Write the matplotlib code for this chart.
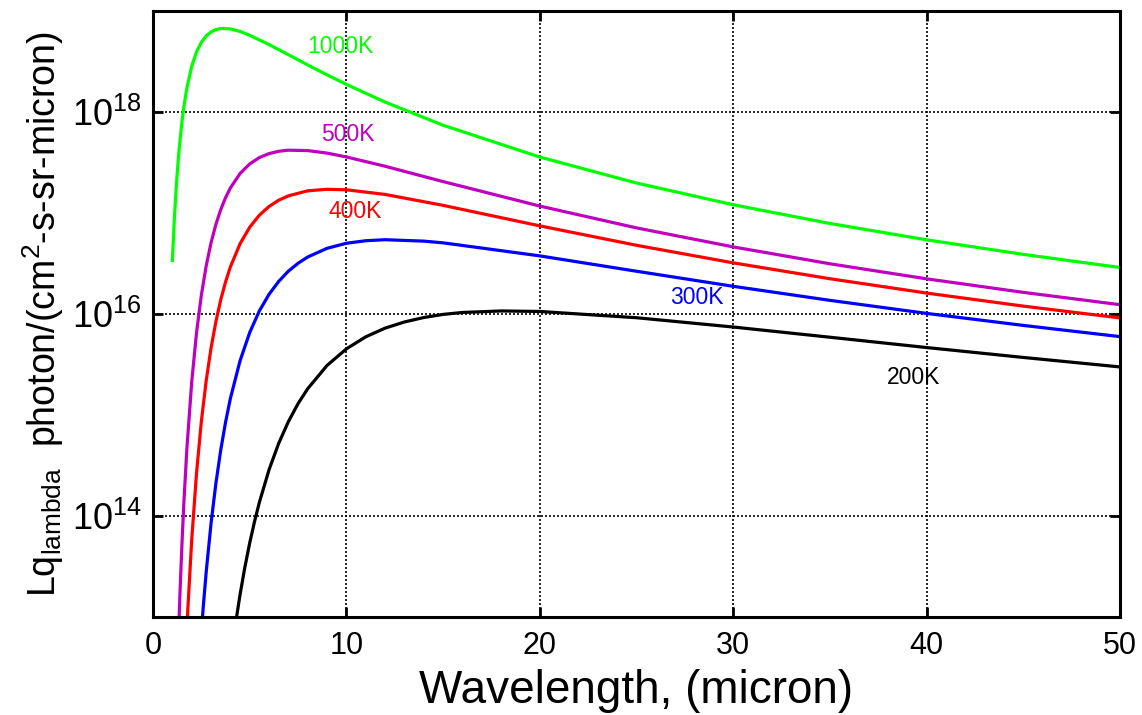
import numpy as np
import matplotlib
matplotlib.use("Agg")
import matplotlib.pyplot as plt
from matplotlib.ticker import FixedLocator, FuncFormatter, NullLocator

# wavelength (micron) and log10 of photon radiance
wl_1000 = [1.0, 1.1, 1.2, 1.25, 1.35, 1.5, 1.6, 1.75, 2, 2.25, 2.5, 2.75, 3, 3.25, 3.5, 4, 4.5, 5, 6, 7, 8, 9,
           10, 12, 15, 20, 25, 30, 35, 40, 45, 50]
lg_1000 = [16.529, 16.932, 17.254, 17.392, 17.628, 17.908, 18.056, 18.236, 18.450, 18.593, 18.688, 18.751,
           18.790, 18.813, 18.824, 18.820, 18.795, 18.757, 18.665, 18.565, 18.463, 18.365, 18.271, 18.096,
           17.867, 17.552, 17.295, 17.080, 16.895, 16.733, 16.589, 16.459]

wl_500 = [1.3, 1.35, 1.4, 1.5, 1.6, 1.75, 2, 2.25, 2.5, 2.75, 3, 3.25, 3.5, 3.75, 4, 4.5, 5, 5.5, 6, 6.5, 7,
          8, 9, 10, 12, 15, 20, 25, 30, 35, 40, 45, 50]
lg_500 = [12.709, 12.999, 13.267, 13.742, 14.151, 14.665, 15.325, 15.815, 16.187, 16.476, 16.704, 16.885,
          17.031, 17.150, 17.246, 17.389, 17.484, 17.547, 17.586, 17.609, 17.620, 17.616, 17.591, 17.553,
          17.461, 17.309, 17.067, 16.851, 16.663, 16.496, 16.347, 16.213, 16.091]

wl_400 = [1.75, 1.8, 2, 2.25, 2.5, 2.75, 3, 3.25, 3.5, 3.75, 4, 4.5, 5, 5.5, 6, 6.5, 7, 8, 9, 10, 12, 15, 20,
          25, 30, 35, 40, 45, 50]
lg_400 = [12.880, 13.078, 13.763, 14.426, 14.938, 15.340, 15.662, 15.923, 16.139, 16.316, 16.465, 16.694,
          16.858, 16.977, 17.063, 17.125, 17.168, 17.218, 17.233, 17.228, 17.182, 17.074, 16.871, 16.679,
          16.505, 16.348, 16.206, 16.077, 15.960]

wl_300 = [2.5, 2.6, 2.75, 3, 3.25, 3.5, 3.75, 4, 4.5, 5, 5.5, 6, 6.5, 7, 7.5, 8, 9, 10, 11, 12, 14, 15, 20, 25,
          30, 35, 40, 45, 50]
lg_300 = [12.855, 13.107, 13.447, 13.927, 14.322, 14.651, 14.928, 15.163, 15.536, 15.816, 16.030, 16.194,
          16.322, 16.423, 16.501, 16.563, 16.649, 16.699, 16.724, 16.734, 16.720, 16.703, 16.574, 16.422,
          16.273, 16.134, 16.005, 15.886, 15.775]

wl_200 = [4, 4.25, 4.5, 4.75, 5, 5.25, 5.5, 6, 6.5, 7, 7.5, 8, 9, 10, 11, 12, 13, 14, 15, 16, 18, 20, 25, 30,
          35, 40, 45, 50]
lg_200 = [12.559, 12.913, 13.222, 13.494, 13.734, 13.946, 14.136, 14.458, 14.720, 14.934, 15.112, 15.260,
          15.490, 15.654, 15.773, 15.859, 15.920, 15.964, 15.995, 16.014, 16.029, 16.024, 15.962, 15.870,
          15.769, 15.667, 15.569, 15.475]

labels = ["1000K", "500K", "400K", "300K", "200K"]
label_x = [7.95, 8.69, 9.05, 26.73, 37.95]
label_lg = [18.646, 17.775, 17.014, 16.163, 15.372]
colors = ["#00ff00", "#bf00bf", "#ff0000", "#0000ff", "#000000"]

x_ticks = [0, 10, 20, 30, 40, 50]
y_ticks = [1e14, 1e16, 1e18]

plt.rcParams["font.family"] = ["Liberation Sans", "DejaVu Sans"]
plt.rcParams["mathtext.fontset"] = "custom"
plt.rcParams["mathtext.rm"] = "Liberation Sans"
plt.rcParams["mathtext.it"] = "Liberation Sans"

fig = plt.figure(figsize=(11.42, 7.15), dpi=100, facecolor="white")
ax = fig.add_axes([0.134, 0.137, 0.8467, 0.848])

series = [(wl_1000, lg_1000), (wl_500, lg_500), (wl_400, lg_400), (wl_300, lg_300), (wl_200, lg_200)]
for (wl, lg), c in zip(series, colors):
    ax.plot(wl, 10.0 ** np.array(lg), color=c, lw=2.3, solid_joinstyle="round")

for t, x, lg, c in zip(labels, label_x, label_lg, colors):
    ax.text(x, 10 ** lg, t, color=c, fontsize=16.5, ha="left", va="center")

ax.set_yscale("log")
ax.set_xlim(0, 50)
ax.set_ylim(1e13, 1e19)

ax.xaxis.set_major_locator(FixedLocator(x_ticks))
ax.yaxis.set_major_locator(FixedLocator(y_ticks))
ax.yaxis.set_minor_locator(NullLocator())
ax.yaxis.set_major_formatter(FuncFormatter(lambda v, p: r"$10^{%d}$" % round(np.log10(v))))

ax.tick_params(which="major", direction="in", length=7, width=2, top=True, right=True, color="black")
ax.tick_params(axis="x", labelsize=22, pad=10)
ax.tick_params(axis="y", labelsize=26, pad=8)

ax.grid(True, color="black", linestyle=(0, (1.2, 1.2)), linewidth=1.2)
for s in ax.spines.values():
    s.set_linewidth(2.2)

ax.set_xlabel("Wavelength, (micron)", fontsize=33, labelpad=6)
ax.set_ylabel(r"Lq$_{\rm lambda}$  photon/(cm$^2$-s-sr-micron)", fontsize=27, labelpad=4)

fig.savefig("out.png", dpi=100, facecolor="white")
